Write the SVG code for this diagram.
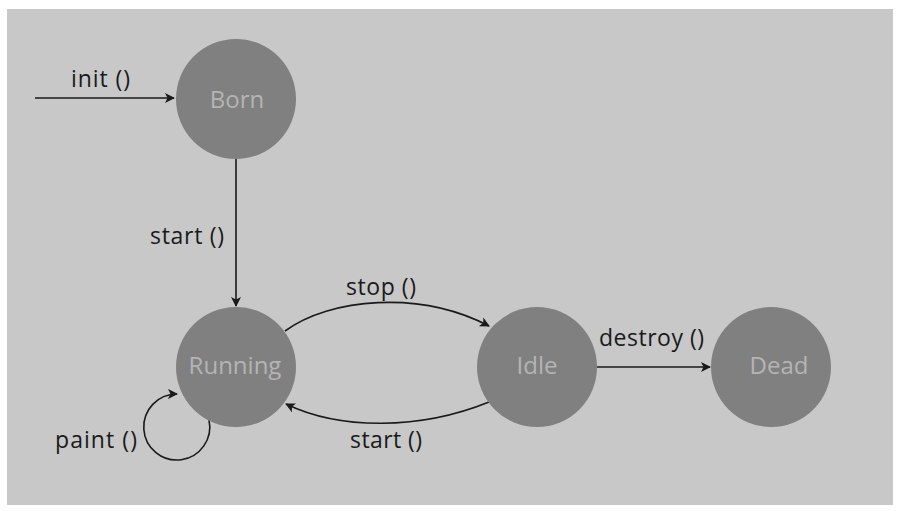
<svg xmlns="http://www.w3.org/2000/svg" width="900" height="511" viewBox="0 0 900 511">
  <style>
    .node circle { fill: #808080; }
    .node text { fill: #b4b4b4; font-family: "Open Sans", "DejaVu Sans", sans-serif; font-size: 24px; text-anchor: middle; }
    .edge { fill: none; stroke: #1a1a1a; stroke-width: 1.6; }
    .label { fill: #1a1a1a; font-family: "Open Sans", "DejaVu Sans", sans-serif; font-size: 23px; }
  </style>
  <defs>
    <marker id="arrow" viewBox="0 0 10 10" refX="9" refY="5" markerWidth="10" markerHeight="10" markerUnits="userSpaceOnUse" orient="auto">
      <path d="M0,0 L10,5 L0,10 L2.5,5 Z" fill="#1a1a1a"/>
    </marker>
  </defs>

  <rect x="0" y="0" width="900" height="511" fill="#ffffff"/>
  <rect x="7" y="9" width="886" height="496" fill="#c8c8c8"/>

  <g id="connectors">
    <path class="edge" d="M35,98 L174,98" marker-end="url(#arrow)"/>
    <path class="edge" d="M236,159 L236,306" stroke="#555555" marker-end="url(#arrow)"/>
    <path class="edge" d="M285,331 C330,298 420,290 489,326" marker-end="url(#arrow)"/>
    <path class="edge" d="M489,402 C420,430 340,430 286,404" marker-end="url(#arrow)"/>
    <path class="edge" d="M597,367 L710,367" marker-end="url(#arrow)"/>
    <path class="edge" d="M209,420 A33,33 0 1 1 177,394" marker-end="url(#arrow)"/>
  </g>

  <g id="labels">
    <text class="label" x="71" y="87" textLength="59">init ()</text>
    <text class="label" x="150" y="244" textLength="74">start ()</text>
    <text class="label" x="346" y="295" textLength="70">stop ()</text>
    <text class="label" x="350" y="448" textLength="72">start ()</text>
    <text class="label" x="599" y="346" textLength="105">destroy ()</text>
    <text class="label" x="55" y="448" textLength="82">paint ()</text>
  </g>

  <g id="born" class="node">
    <circle cx="236" cy="99" r="60"/>
    <text x="237" y="108">Born</text>
  </g>
  <g id="running" class="node">
    <circle cx="236" cy="367" r="60"/>
    <text x="235" y="374">Running</text>
  </g>
  <g id="idle" class="node">
    <circle cx="537" cy="367" r="60"/>
    <text x="537" y="374">Idle</text>
  </g>
  <g id="dead" class="node">
    <circle cx="771" cy="367" r="60"/>
    <text x="779" y="374">Dead</text>
  </g>
</svg>
